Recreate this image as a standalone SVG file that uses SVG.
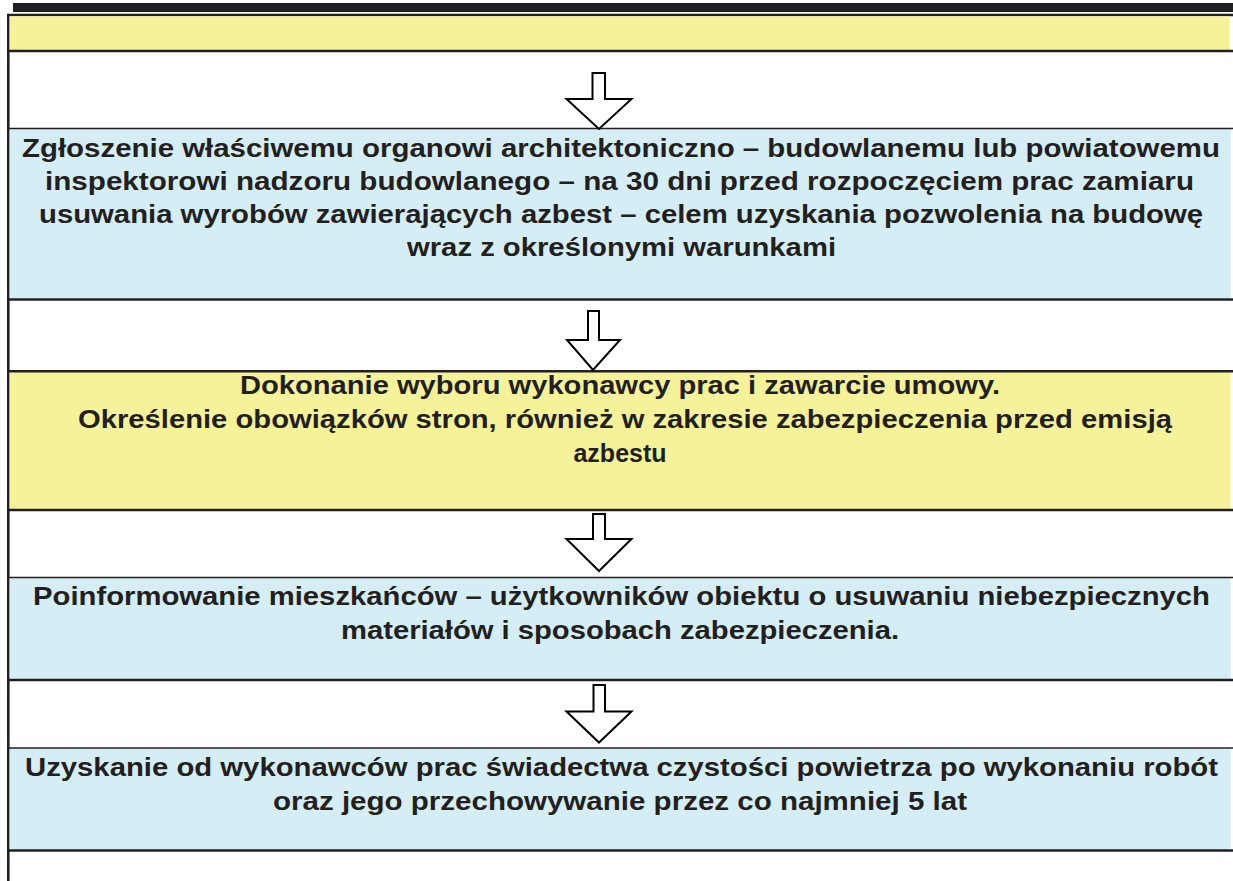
<svg xmlns="http://www.w3.org/2000/svg" width="1233" height="881" viewBox="0 0 1233 881">
<style>
.t{font-family:"Liberation Sans",Arial,sans-serif;font-weight:bold;font-size:25px;fill:#231f20;text-anchor:middle}
.y{fill:#f6f29a}
.b{fill:#d5edf4}
.ln{stroke:#231f20;stroke-width:2.6;fill:none}
.lt{stroke:#231f20;stroke-width:1.6;fill:none}
.ar{fill:#fff;stroke:#000;stroke-width:2;stroke-linejoin:miter}
</style>
<rect x="0" y="0" width="1233" height="881" fill="#fff"/>
<g id="frame">
<rect x="13" y="3" width="1220" height="9" fill="#231f20"/>
<line class="ln" x1="7" y1="15" x2="1233" y2="15"/>
<line class="ln" x1="8.3" y1="14" x2="8.3" y2="881"/>
</g>
<g id="header">
<rect class="y" x="9.6" y="16.3" width="1220" height="33.7"/>
<line class="ln" x1="7" y1="51" x2="1233" y2="51"/>
</g>
<g id="node1">
<rect class="b" x="9.6" y="129" width="1221" height="169"/>
<line class="lt" x1="9" y1="128.5" x2="1233" y2="128.5"/>
<line class="ln" x1="7" y1="299.5" x2="1233" y2="299.5"/>
<text class="t" x="621" y="157" textLength="1198" lengthAdjust="spacingAndGlyphs">Zgłoszenie właściwemu organowi architektoniczno – budowlanemu lub powiatowemu</text>
<text class="t" x="619.5" y="190" textLength="1149" lengthAdjust="spacingAndGlyphs">inspektorowi nadzoru budowlanego – na 30 dni przed rozpoczęciem prac zamiaru</text>
<text class="t" x="621" y="223" textLength="1164" lengthAdjust="spacingAndGlyphs">usuwania wyrobów zawierających azbest – celem uzyskania pozwolenia na budowę</text>
<text class="t" x="621.5" y="256" textLength="429" lengthAdjust="spacingAndGlyphs">wraz z określonymi warunkami</text>
</g>
<g id="node2">
<rect class="y" x="9.6" y="372" width="1221" height="137"/>
<line class="ln" x1="7" y1="371.2" x2="1233" y2="371.2"/>
<line class="ln" x1="7" y1="510" x2="1233" y2="510"/>
<text class="t" x="620" y="394" textLength="760" lengthAdjust="spacingAndGlyphs">Dokonanie wyboru wykonawcy prac i zawarcie umowy.</text>
<text class="t" x="625" y="428" textLength="1094" lengthAdjust="spacingAndGlyphs">Określenie obowiązków stron, również w zakresie zabezpieczenia przed emisją</text>
<text class="t" x="620" y="462">azbestu</text>
</g>
<g id="node3">
<rect class="b" x="9.6" y="578" width="1221" height="101"/>
<line class="lt" x1="9" y1="577.5" x2="1233" y2="577.5"/>
<line class="ln" x1="7" y1="680" x2="1233" y2="680"/>
<text class="t" x="621.5" y="605" textLength="1177" lengthAdjust="spacingAndGlyphs">Poinformowanie mieszkańców – użytkowników obiektu o usuwaniu niebezpiecznych</text>
<text class="t" x="620" y="639" textLength="558" lengthAdjust="spacingAndGlyphs">materiałów i sposobach zabezpieczenia.</text>
</g>
<g id="node4">
<rect class="b" x="9.6" y="748.5" width="1221" height="101"/>
<line class="lt" x1="9" y1="748" x2="1233" y2="748"/>
<line class="ln" x1="7" y1="850.5" x2="1233" y2="850.5"/>
<text class="t" x="621.5" y="776" textLength="1193" lengthAdjust="spacingAndGlyphs">Uzyskanie od wykonawców prac świadectwa czystości powietrza po wykonaniu robót</text>
<text class="t" x="620" y="810" textLength="694" lengthAdjust="spacingAndGlyphs">oraz jego przechowywanie przez co najmniej 5 lat</text>
</g>
<g id="connectors">
<polygon class="ar" points="592.5,73 605,73 605,99 631.5,99 599,129 566.5,99 592.5,99"/>
<polygon class="ar" points="588,311 599,311 599,340 620,340 593,370 567,340 588,340"/>
<polygon class="ar" points="593,514 605,514 605,539 631.5,539 599,571 566.5,539 593,539"/>
<polygon class="ar" points="593.5,685 605,685 605,711.5 631.5,711.5 599,742.5 566.5,711.5 593.5,711.5"/>
</g>
</svg>
